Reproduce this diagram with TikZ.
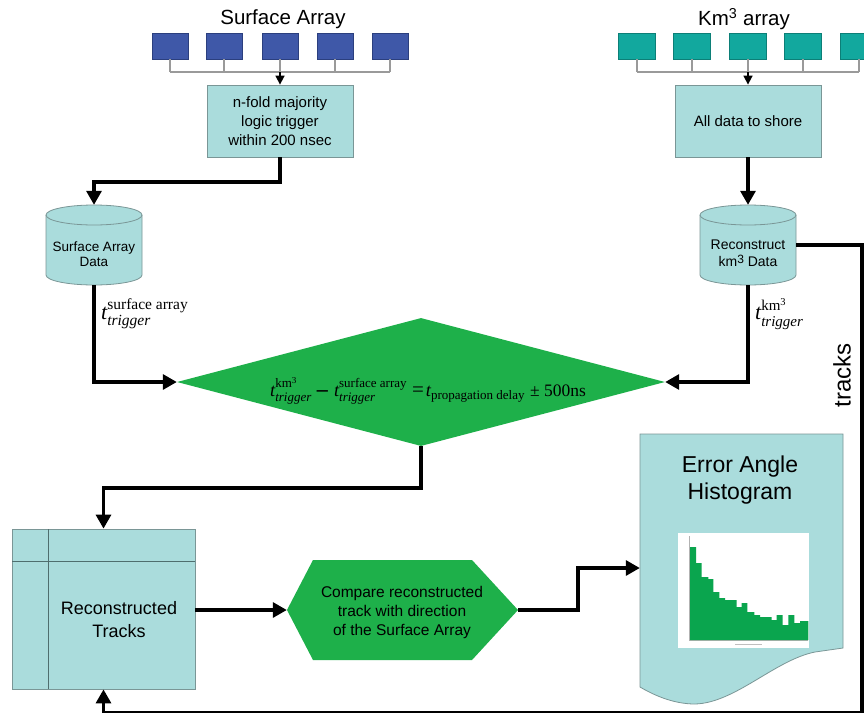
\documentclass[tikz,border=0pt]{standalone}
\usepackage{fontspec}
\setmainfont{Liberation Sans}
\newfontfamily\tms{Liberation Serif}
\usetikzlibrary{arrows.meta,shapes.geometric}
\definecolor{boxfill}{HTML}{AADCDC}
\definecolor{boxline}{HTML}{7A9696}
\definecolor{innerline}{HTML}{4F6E6E}
\definecolor{sqblue}{HTML}{3F58A8}
\definecolor{sqblueline}{HTML}{2B3F7E}
\definecolor{sqteal}{HTML}{12A89E}
\definecolor{sqtealline}{HTML}{0C7F77}
\definecolor{dgreen}{HTML}{1EB04A}
\definecolor{hgreen}{HTML}{0AA54E}
\definecolor{wire}{HTML}{9A9A9A}
\newcommand{\fs}[2]{\fontsize{#1}{#2}\selectfont}
\newcommand{\tvar}[4]{{\fs{#1}{#1}$\mbox{\tms\fs{#1}{#1}\itshape t}^{\raisebox{2pt}{\tms\fs{#2}{#2}#3}}_{\raisebox{-1.5pt}{\tms\fs{#2}{#2}\itshape #4}}$}}
\newcommand{\cylpath}[2]{%
  \filldraw[fill=boxfill, draw=boxline, line width=0.8pt] (#1-48,#2-30) -- (#1-48,#2+30)
    arc[start angle=180,end angle=0,x radius=48,y radius=10] -- (#1+48,#2-30)
    arc[start angle=0,end angle=-180,x radius=48,y radius=10] -- cycle;
  \draw[boxline, line width=0.8pt] (#1-48,#2-30) arc[start angle=180,end angle=0,x radius=48,y radius=10];}
\begin{document}
\begin{tikzpicture}[x=1pt,y=-1pt,
  box/.style={draw=boxline, fill=boxfill, line width=0.8pt, inner sep=0pt, align=center},
  sqb/.style={draw=sqblueline, fill=sqblue, minimum width=36pt, minimum height=26pt, inner sep=0pt, line width=0.6pt},
  sqt/.style={draw=sqtealline, fill=sqteal, minimum width=37pt, minimum height=26pt, inner sep=0pt, line width=0.6pt},
  wireline/.style={draw=wire, line width=1.1pt},
  smallarr/.style={draw=black, line width=1.6pt, -{Triangle[length=9pt,width=9pt]}},
  arr/.style={draw=black, line width=3.2pt, -{Triangle[length=14pt,width=15pt]}},
  lbl/.style={inner sep=0pt, align=center},
  anchorbox/.style={inner sep=0pt, draw=none}
]
\useasboundingbox (0,0) rectangle (864,712);
\fill[white] (0,0) rectangle (864,712);

% titles
\node[lbl, font=\fs{20.5}{24}] (satitle) at (283,19) {Surface Array};
\node[lbl, font=\fs{20.5}{24}] (kmtitle) at (744,19) {Km\textsuperscript{3} array};

% surface array squares
\coordinate (sj) at (280,72);
\foreach \i/\x in {1/170,2/224,3/280,4/335,5/390} {
  \node[sqb] (sb\i) at (\x,46) {};
  \draw[wireline] (sb\i.south) -- (sb\i.south |- sj);
}
\draw[wireline] (sb1.south |- sj) -- (sb5.south |- sj);

% km3 squares
\coordinate (kj) at (748,72);
\foreach \i/\x in {1/637,2/692,3/748,4/803,5/859} {
  \node[sqt] (kb\i) at (\x,46) {};
  \draw[wireline] (kb\i.south) -- (kb\i.south |- kj);
}
\draw[wireline] (kb1.south |- kj) -- (kb5.south |- kj);

% top boxes
\node[box, minimum width=146pt, minimum height=72pt, font=\fs{15}{19}] (trig) at (280,121) {n-fold majority\\logic trigger\\within 200 nsec};
\node[box, minimum width=146pt, minimum height=72pt, font=\fs{15}{19}] (shore) at (748,121) {All data to shore};
\draw[smallarr] (sj) -- (trig.north);
\draw[smallarr] (kj) -- (shore.north);

% cylinders
\cylpath{94}{245}
\cylpath{748}{245}
\node[anchorbox, minimum width=96pt, minimum height=80pt] (sad) at (94,245) {};
\node[anchorbox, minimum width=96pt, minimum height=80pt] (kmd) at (748,245) {};
\node[lbl, font=\fs{13.5}{15.5}] (sadtxt) at (94,254) {Surface Array\\Data};
\node[lbl, font=\fs{14}{16.5}] (kmdtxt) at (748,253) {Reconstruct\\km{\raisebox{3pt}{\fs{12}{12}3}} Data};

% diamond
\node[diamond, fill=dgreen, minimum width=488pt, minimum height=128pt, inner sep=0pt, aspect=3.8] (dia) at (421,382) {};
\node[lbl] (diatxt) at (428,391) {\tvar{18.5}{13}{km\textsuperscript{3}}{trigger}\hspace{5pt}{\tms\fs{22}{22}\textbf{–}}\hspace{6pt}\tvar{18.5}{13}{surface array}{trigger}\hspace{5pt}{\tms\fs{21}{21}=}\hspace{2pt}{\fs{18.5}{18.5}$\mbox{\tms\fs{18.5}{18.5}\itshape t}_{\mbox{\tms\fs{13}{13}propagation delay}}$}\hspace{5pt}{\tms\fs{17.5}{17.5}± 500ns}};

% t labels
\node[lbl, anchor=west] (tsa) at (101,314) {\tvar{22}{15.5}{surface array}{trigger}};
\node[lbl, anchor=west] (tkm) at (755,314) {\tvar{22}{15}{km\textsuperscript{3}}{trigger}};

% arrows to diamond
\draw[arr] (trig.south) -- (trig.south |- 0,182) -| (sad.north);
\draw[arr] (shore.south) -- (kmd.north);
\draw[arr] (sad.south) |- (dia.west);
\draw[arr] (kmd.south) |- (dia.east);

% reconstructed tracks
\node[box, minimum width=183pt, minimum height=160pt] (rec) at (103.5,609) {};
\draw[innerline, line width=1pt] (48,529) -- (48,689);
\draw[innerline, line width=1pt] (12,561) -- (195,561);
\node[lbl, font=\fs{18}{23}] (rectxt) at (119,620) {Reconstructed\\Tracks};
\draw[arr] (dia.south) -- (dia.south |- 0,488) -| (rec.north);

% tracks loop
\coordinate (br) at (862,712.3);
\draw[arr] (kmd.east) -| (br) -| (rec.south);
\node[lbl, rotate=90, font=\fs{24}{24}] (trk) at (842,375) {tracks};

% hexagon
\fill[dgreen] (287,610) -- (313,560) -- (472,560) -- (518,610) -- (472,660) -- (313,660) -- cycle;
\node[anchorbox, minimum width=231pt, minimum height=100pt] (hex) at (402.5,610) {};
\node[lbl, font=\fs{15.5}{19}] (hextxt) at (402,612) {Compare reconstructed\\track with direction\\of the Surface Array};
\draw[arr] (rec.east |- hex.west) -- (hex.west);

% histogram document
\filldraw[fill=boxfill, draw=boxline, line width=0.8pt] (640,434) -- (843,434) -- (843,648) -- (815,652)
  .. controls (775,660) and (735,703) .. (695,704)
  .. controls (672,704) and (652,694) .. (640,687) -- cycle;
\node[anchorbox, minimum width=203pt, minimum height=269pt] (hist) at (741.5,568) {};
\node[lbl, font=\fs{23}{27}] (histtxt) at (740,480) {Error Angle\\Histogram};
\draw[arr] (hex.east) -- (hex.east -| 578,0) |- (hist.west);

% histogram plot
\fill[white] (678,533) rectangle (809,648);
\draw[gray!60, line width=0.4pt] (689,536) -- (689,640) -- (808,640);
\foreach \yy in {547,560,575,590,605,620} \draw[gray!60, line width=0.4pt] (689,\yy) -- (691,\yy);
\fill[hgreen] (690,640) -- (690,547) -- (696,547) -- (696,563) -- (701.7,563) -- (701.7,577)
  -- (708.3,577) -- (708.3,579) -- (713.3,579) -- (713.3,592) -- (719.3,592) -- (719.3,598)
  -- (725,598) -- (725,600) -- (736.7,600) -- (736.7,607) -- (741.7,607) -- (741.7,603)
  -- (747.3,603) -- (747.3,612) -- (754.3,612) -- (754.3,615) -- (760,615) -- (760,617)
  -- (771.7,617) -- (771.7,620) -- (776.7,620) -- (776.7,615) -- (782.7,615) -- (782.7,625)
  -- (788.3,625) -- (788.3,615) -- (794.3,615) -- (794.3,623) -- (800,623) -- (800,621)
  -- (808.3,621) -- (808.3,640) -- cycle;
\draw[gray!50, line width=0.3pt] (735,644) -- (762,644);
\end{tikzpicture}
\end{document}
